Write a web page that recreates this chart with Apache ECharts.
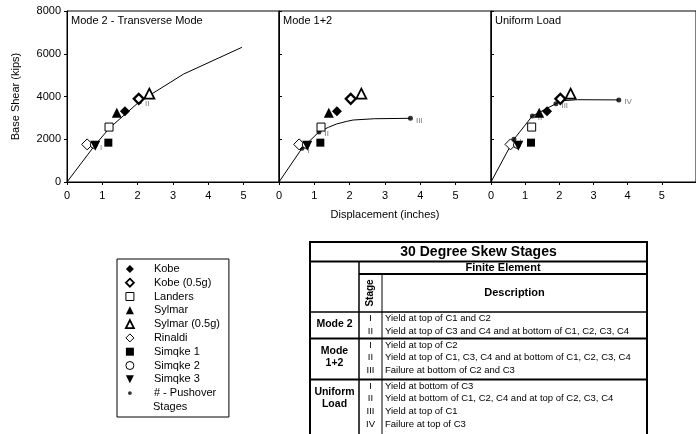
<!DOCTYPE html>
<html><head><meta charset="utf-8">
<script src="https://cdn.jsdelivr.net/npm/echarts@6/dist/echarts.min.js"></script>
<style>html,body{margin:0;padding:0;background:#fff}#c{width:696px;height:434px}</style>
</head><body><div id="c"></div>
<script>
// ---------- DATA ----------
const panelTitles = ['Mode 2 - Transverse Mode', 'Mode 1+2', 'Uniform Load'];
const xAxisTitle = 'Displacement (inches)';
const yAxisTitle = 'Base Shear (kips)';

const eqNames = ['Kobe', 'Kobe (0.5g)', 'Landers', 'Sylmar', 'Sylmar (0.5g)', 'Rinaldi', 'Simqke 1', 'Simqke 2', 'Simqke 3'];
const eqDisp  = [1.64, 2.03, 1.19, 1.41, 2.33, 0.57, 1.17, 0.76, 0.80];
const eqShear = [3310, 3890, 2570, 3240, 4130, 1760, 1840, 1740, 1700];

const pushoverName = '# - Pushover';
const pushoverName2 = 'Stages';

const curveDispMode2  = [0, 0.78, 1.2, 2.05, 3.3, 4.95];
const curveShearMode2 = [0, 1700, 2520, 3760, 5050, 6300];
const curveDispMode12  = [0, 0.65, 1.13, 1.4, 1.63, 1.9, 2.1, 2.7, 3.72];
const curveShearMode12 = [0, 1575, 2340, 2560, 2713, 2830, 2900, 2960, 2980];
const curveDispUniform  = [0, 0.67, 1.21, 1.90, 2.06, 2.53, 3.74];
const curveShearUniform = [0, 1996, 3088, 3663, 3800, 3850, 3840];

const stageDispMode2  = [0.78, 2.05];
const stageShearMode2 = [1700, 3760];
const stageDispMode12  = [0.65, 1.13, 3.72];
const stageShearMode12 = [1575, 2340, 2980];
const stageDispUniform  = [0.67, 1.21, 1.90, 3.74];
const stageShearUniform = [1996, 3088, 3663, 3840];

const tableTitle = '30 Degree Skew Stages';
const tableSub = 'Finite Element';
const tableHeadStage = 'Stage';
const tableHeadDesc = 'Description';
const groupNames = ['Mode 2', 'Mode\n1+2', 'Uniform\nLoad'];
const stagesMode2 = ['I', 'II'];
const stagesMode12 = ['I', 'II', 'III'];
const stagesUniform = ['I', 'II', 'III', 'IV'];
const descMode2 = ['Yield at top of C1 and C2', 'Yield at top of C3 and C4 and at bottom of C1, C2, C3, C4'];
const descMode12 = ['Yield at top of C2', 'Yield at top of C1, C3, C4 and at bottom of C1, C2, C3, C4', 'Failure at bottom of C2 and C3'];
const descUniform = ['Yield at bottom of C3', 'Yield at bottom of C1, C2, C4 and at top of C2, C3, C4', 'Yield at top of C1', 'Failure at top of C3'];

// ---------- STYLE / LAYOUT ----------
const FONT = "'Liberation Sans', Arial, sans-serif";
const eqSymbols = ['diamond', 'diamond', 'rect', 'triangle', 'triangle', 'diamond', 'rect', 'circle', 'path://M0,0L10,0L5,10Z'];
const eqFill = ['#000', '#fff', '#fff', '#000', '#fff', '#fff', '#000', '#fff', '#000'];
const eqBorderW = [0, 2.2, 1, 0, 1.8, 1, 0, 1, 0];
const eqSize = [10, 10, 8, 10, 10, 11, 8, 7, 10];

const curves = [
  [curveDispMode2, curveShearMode2],
  [curveDispMode12, curveShearMode12],
  [curveDispUniform, curveShearUniform]
];
const stagePts = [
  [stageDispMode2, stageShearMode2, stagesMode2],
  [stageDispMode12, stageShearMode12, stagesMode12],
  [stageDispUniform, stageShearUniform, stagesUniform]
];

const PW = 212, PL = 67, PT = 11, PH = 171;
const grids = [], xAxes = [], yAxes = [], titles = [], series = [];
for (let i = 0; i < 3; i++) {
  grids.push({left: PL + PW * i, top: PT, width: PW, height: PH, show: true, borderColor: '#000', borderWidth: 1, backgroundColor: 'transparent'});
  xAxes.push({
    gridIndex: i, type: 'value', min: 0, max: 6, interval: 1,
    axisLine: {show: true, onZero: false, lineStyle: {color: '#000', width: 1}},
    axisTick: {show: true, length: 3, lineStyle: {color: '#000'}},
    axisLabel: {fontSize: 11, color: '#000', fontFamily: FONT, margin: 8, showMaxLabel: false, formatter: v => String(v)},
    splitLine: {show: false},
    name: i === 1 ? xAxisTitle : '', nameLocation: 'middle', nameGap: 27,
    nameTextStyle: {fontSize: 11, color: '#000', fontFamily: FONT}
  });
  yAxes.push({
    gridIndex: i, type: 'value', min: 0, max: 8000, interval: 2000,
    axisLine: {show: true, lineStyle: {color: '#000', width: 1}},
    axisTick: {show: true, inside: i > 0, length: 3, lineStyle: {color: '#000'}},
    axisLabel: {show: i === 0, fontSize: 11, color: '#000', fontFamily: FONT, margin: 6, formatter: v => String(v)},
    splitLine: {show: false},
    name: i === 0 ? yAxisTitle : '', nameLocation: 'middle', nameGap: 46, nameRotate: 90,
    nameTextStyle: {fontSize: 11, color: '#000', fontFamily: FONT}
  });
  titles.push({text: panelTitles[i], left: PL + PW * i + 4, top: 15, padding: 0,
    textStyle: {fontSize: 11, fontWeight: 'normal', color: '#000', fontFamily: FONT}});

  const [cx, cy] = curves[i];
  series.push({
    type: 'line', xAxisIndex: i, yAxisIndex: i, data: cx.map((x, k) => [x, cy[k]]),
    showSymbol: false, symbol: 'none', lineStyle: {color: '#000', width: 1}, silent: true, z: 2, animation: false
  });
  const [sx, sy, sn] = stagePts[i];
  series.push({
    type: 'scatter', name: pushoverName, xAxisIndex: i, yAxisIndex: i,
    data: sx.map((x, k) => [x, sy[k]]),
    symbol: 'circle', symbolSize: 5, itemStyle: {color: '#000'}, z: 3, animation: false,
    label: {show: true, position: 'right', distance: 3, offset: [0, 2], fontSize: 8, color: '#555', fontFamily: FONT,
      formatter: p => sn[p.dataIndex]}
  });
  eqNames.forEach((n, k) => {
    series.push({
      type: 'scatter', name: n, xAxisIndex: i, yAxisIndex: i, data: [[eqDisp[k], eqShear[k]]],
      symbol: eqSymbols[k], symbolSize: eqSize[k], z: 4, animation: false,
      itemStyle: {color: eqFill[k], borderColor: '#000', borderWidth: eqBorderW[k], opacity: 1}
    });
  });
}

const legendData = eqNames.map((n, k) => ({
  name: n, icon: eqSymbols[k],
  itemStyle: {color: eqFill[k], borderColor: '#000', borderWidth: eqBorderW[k] ? Math.min(eqBorderW[k], 1.8) : 0}
})).concat([{name: pushoverName, icon: 'path://M0,0M10,10M2.6,5A2.4,2.4 0 1 1 7.4,5A2.4,2.4 0 1 1 2.6,5Z',
  itemStyle: {color: '#000', borderWidth: 0}}]);

// ---------- TABLE (graphic) ----------
const T = {x0: 310, x1: 359, x2: 382, x3: 647, yTop: 242, ySub: 261.5, yHead: 274, yBody: 312, yBottom: 437};
const groupTops = [312, 338.5, 379.5];
const groupLabelY = [324.5, 357.5, 398];
const ROW_H = 12.7;
const groupStages = [stagesMode2, stagesMode12, stagesUniform];
const groupDescs = [descMode2, descMode12, descUniform];
const g = [];
function line(x1, y1, x2, y2, w) {
  g.push({type: 'line', silent: true, shape: {x1, y1, x2, y2}, style: {stroke: '#000', lineWidth: w}});
}
function text(x, y, s, size, bold, align, rot) {
  g.push({type: 'text', silent: true, x, y, rotation: rot || 0,
    style: {text: s, fontSize: size, fontWeight: bold ? 'bold' : 'normal', fontFamily: FONT, fill: '#000',
      align: align || 'center', verticalAlign: 'middle', lineHeight: 12}});
}
g.push({type: 'rect', silent: true, shape: {x: T.x0, y: T.yTop, width: T.x3 - T.x0, height: T.yBottom - T.yTop},
  style: {fill: 'none', stroke: '#000', lineWidth: 2}});
line(T.x0, T.ySub, T.x3, T.ySub, 2);
line(T.x1, T.yHead, T.x3, T.yHead, 2);
line(T.x0, T.yBody, T.x3, T.yBody, 1.5);
line(T.x0, groupTops[1], T.x3, groupTops[1], 2);
line(T.x0, groupTops[2], T.x3, groupTops[2], 2);
line(T.x1, T.ySub, T.x1, T.yBottom, 1.5);
line(T.x2, T.yHead, T.x2, T.yBottom, 1);
text((T.x0 + T.x3) / 2, (T.yTop + T.ySub) / 2 + 0.5, tableTitle, 14, true);
text((T.x1 + T.x3) / 2, (T.ySub + T.yHead) / 2 + 0.5, tableSub, 11, true);
text((T.x2 + T.x3) / 2, (T.yHead + T.yBody) / 2, tableHeadDesc, 11, true);
text((T.x1 + T.x2) / 2, (T.yHead + T.yBody) / 2, tableHeadStage, 10, true, 'center', Math.PI / 2);
groupNames.forEach((n, gi) => {
  text((T.x0 + T.x1) / 2, groupLabelY[gi], n, 10.5, true);
  groupStages[gi].forEach((s, r) => {
    const y = groupTops[gi] + 6.5 + ROW_H * r;
    text((T.x1 + T.x2) / 2, y, s, 9.5, false);
    text(T.x2 + 3, y, groupDescs[gi][r], 9.5, false, 'left');
  });
});
// second line of the last legend entry
g.push({type: 'text', silent: true, x: 153, y: 407,
  style: {text: pushoverName2, fontSize: 11, fontFamily: FONT, fill: '#000', align: 'left', verticalAlign: 'middle'}});

const chart = echarts.init(document.getElementById('c'), null, {renderer: 'canvas'});
chart.setOption({
  animation: false,
  backgroundColor: '#fff',
  title: titles,
  grid: grids,
  xAxis: xAxes,
  yAxis: yAxes,
  legend: {
    orient: 'vertical', left: 117, top: 259, padding: [3, 9, 17, 8], itemGap: 0,
    itemWidth: 8, itemHeight: 8, borderColor: '#000', borderWidth: 1, selectedMode: false,
    textStyle: {fontSize: 11, color: '#000', fontFamily: FONT, lineHeight: 13.8, padding: [0, 0, 0, 15]},
    data: legendData
  },
  series: series,
  graphic: g
});
</script>
</body></html>
